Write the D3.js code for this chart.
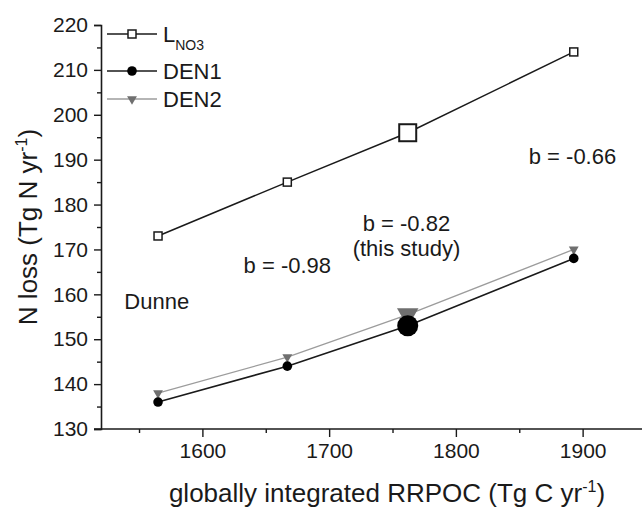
<!DOCTYPE html>
<html>
<head>
<meta charset="utf-8">
<script src="https://cdn.jsdelivr.net/npm/d3@7"></script>
<style>
  html, body { margin: 0; padding: 0; background: #fff; }
  svg { display: block; }
  text { font-family: "Liberation Sans", Arial, Helvetica, sans-serif; fill: #1a1a1a; }
</style>
</head>
<body>
<svg id="chart" width="642" height="508"></svg>
<script>
// RRPOC scenarios (Tg C / yr) and the resulting N losses (Tg N / yr)
const rrpoc = [1565, 1667, 1762, 1893];
const lNO3 = [173, 185, 196, 214];
const den1 = [136, 144, 153, 168];
const den2 = [138, 146, 155.5, 170];
// index of the reference scenario drawn with enlarged markers
const highlight = 2;

const xTicks = [1600, 1700, 1800, 1900];
const yTicks = [130, 140, 150, 160, 170, 180, 190, 200, 210, 220];
const xMinor = [1550, 1650, 1750, 1850, 1950];
const yMinor = [135, 145, 155, 165, 175, 185, 195, 205, 215];

// slope annotations, placed in data coordinates
const notes = [
  { text: "b = -0.66", x: 1892, y: 190.6 },
  { text: "b = -0.82", x: 1761, y: 175.8 },
  { text: "(this study)", x: 1761, y: 170.2 },
  { text: "b = -0.98", x: 1667, y: 166.5 },
  { text: "Dunne", x: 1564, y: 158.3 }
];

const svg = d3.select("#chart");
const x = d3.scaleLinear().domain([1520, 1950]).range([101, 646]);
const y = d3.scaleLinear().domain([130, 220]).range([429, 25]);

const ink = "#1a1a1a";
const grey = "#6f6f6f";
const greyLine = "#9c9c9c";

// axes
const xAxis = svg.append("g").attr("transform", `translate(0,${y(130)})`)
  .call(d3.axisBottom(x).tickValues(xTicks).tickSize(8).tickPadding(6).tickFormat(d3.format("d")));
const xAxisMinor = svg.append("g").attr("transform", `translate(0,${y(130)})`)
  .call(d3.axisBottom(x).tickValues(xMinor).tickSize(4).tickFormat(""));
const yAxis = svg.append("g").attr("transform", `translate(${x(1520)},0)`)
  .call(d3.axisLeft(y).tickValues(yTicks).tickSize(7).tickPadding(6).tickFormat(d3.format("d")));
const yAxisMinor = svg.append("g").attr("transform", `translate(${x(1520)},0)`)
  .call(d3.axisLeft(y).tickValues(yMinor).tickSize(4).tickFormat(""));

[xAxis, xAxisMinor, yAxis, yAxisMinor].forEach(g => {
  g.select(".domain").attr("stroke", ink).attr("stroke-width", 1.6);
  g.selectAll(".tick line").attr("stroke", ink).attr("stroke-width", 1.4);
  g.selectAll(".tick text").attr("fill", ink).style("font-size", "21px");
});
xAxisMinor.select(".domain").remove();
yAxisMinor.select(".domain").remove();
// x axis line reaches across the left tick stub
xAxis.select(".domain").attr("d", `M${x(1520) - 7},0H646`);

// series
const series = [
  { name: "L", sub: "NO3", values: lNO3, line: ink, width: 1.5, marker: "square" },
  { name: "DEN1", values: den1, line: ink, width: 1.6, marker: "circle" },
  { name: "DEN2", values: den2, line: greyLine, width: 1.3, marker: "triangle" }
];

const line = d3.line().x(d => x(d[0])).y(d => y(d[1]));

function marker(g, type, big) {
  if (type === "square") {
    const s = big ? 17 : 8;
    g.append("rect").attr("x", -s / 2).attr("y", -s / 2).attr("width", s).attr("height", s)
      .attr("fill", "#fff").attr("stroke", ink).attr("stroke-width", big ? 2 : 1.5);
  } else if (type === "circle") {
    g.append("circle").attr("r", big ? 10.5 : 4.8).attr("fill", "#000");
  } else {
    const sz = big ? 200 : 42;
    g.append("path").attr("d", d3.symbol(d3.symbolTriangle, sz)())
      .attr("transform", "rotate(180)").attr("fill", grey);
  }
}

// draw DEN2 first so DEN1 sits on top, L_NO3 last
[series[2], series[1], series[0]].forEach(s => {
  const pts = rrpoc.map((v, i) => [v, s.values[i]]);
  svg.append("path").datum(pts).attr("d", line)
    .attr("fill", "none").attr("stroke", s.line).attr("stroke-width", s.width);
  pts.forEach((p, i) => {
    const g = svg.append("g").attr("transform", `translate(${x(p[0])},${y(p[1])})`);
    marker(g, s.marker, i === highlight);
  });
});

// legend
const legendRows = [34, 71, 99];
series.forEach((s, i) => {
  const g = svg.append("g").attr("transform", `translate(107,${legendRows[i]})`);
  g.append("line").attr("x1", 0).attr("x2", 50).attr("y1", 0).attr("y2", 0)
    .attr("stroke", s.line).attr("stroke-width", s.width);
  const m = g.append("g").attr("transform", "translate(25,0)");
  if (s.marker === "square") {
    m.append("rect").attr("x", -4).attr("y", -4).attr("width", 8).attr("height", 8)
      .attr("fill", "#fff").attr("stroke", ink).attr("stroke-width", 1.5);
  } else if (s.marker === "circle") {
    m.append("circle").attr("r", 4.8).attr("fill", "#000");
  } else {
    m.append("path").attr("d", d3.symbol(d3.symbolTriangle, 42)())
      .attr("transform", "rotate(180)").attr("fill", grey);
  }
  const t = g.append("text").attr("x", 56).attr("y", 8).style("font-size", "22px").text(s.name);
  if (s.sub) {
    t.append("tspan").attr("dy", 8).style("font-size", "14px").text(s.sub);
  }
});

// annotations
notes.forEach(n => {
  svg.append("text").attr("x", x(n.x)).attr("y", y(n.y)).attr("text-anchor", "middle")
    .attr("dominant-baseline", "central").style("font-size", "22px").text(n.text);
});

// axis titles
const xt = svg.append("text").attr("x", 387).attr("y", 502).attr("text-anchor", "middle")
  .style("font-size", "26px").text("globally integrated RRPOC (Tg C yr");
xt.append("tspan").attr("dy", -10).style("font-size", "16px").text("-1");
xt.append("tspan").attr("dy", 10).text(")");

const yt = svg.append("text").attr("transform", "translate(37,227) rotate(-90)")
  .attr("text-anchor", "middle").style("font-size", "26px").text("N loss (Tg N yr");
yt.append("tspan").attr("dy", -10).style("font-size", "16px").text("-1");
yt.append("tspan").attr("dy", 10).text(")");
</script>
</body>
</html>
